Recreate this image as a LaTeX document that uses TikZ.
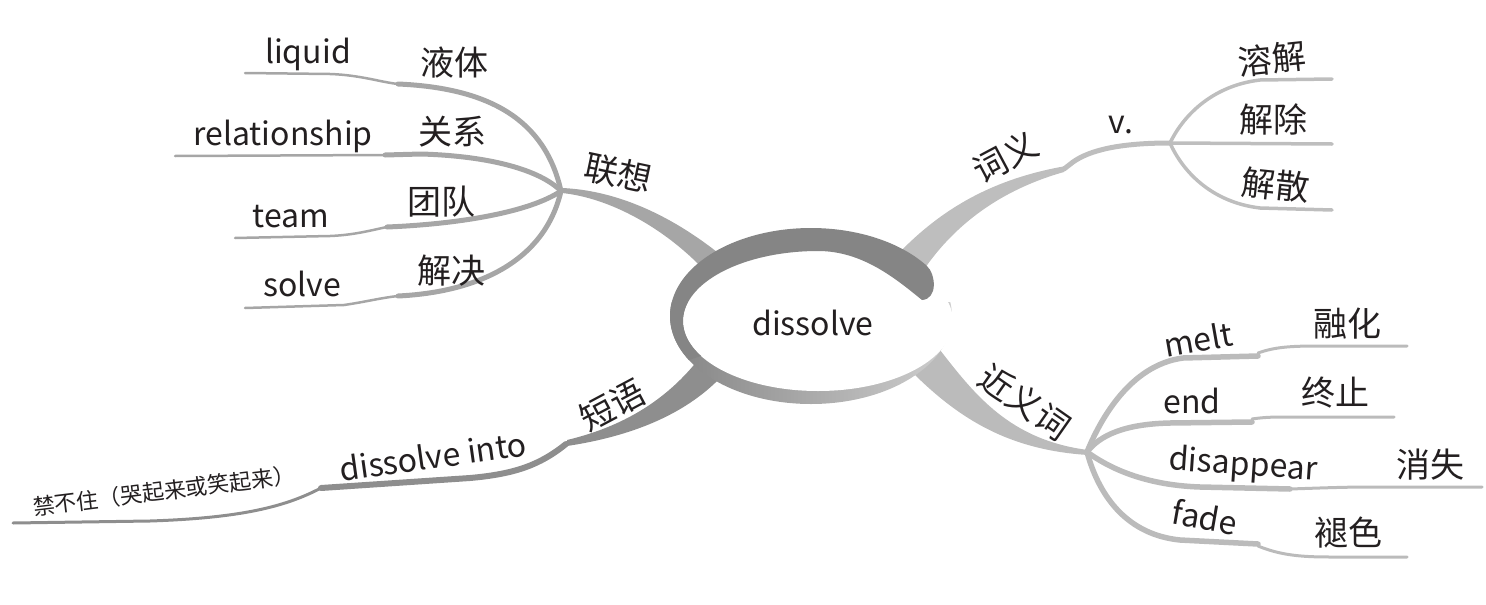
\documentclass[tikz,border=0pt]{standalone}
\usepackage{fontspec}
\setmainfont{Noto Sans CJK SC}
\definecolor{txt}{HTML}{231F20}
\definecolor{ringdark}{HTML}{858585}
\definecolor{ringlight}{HTML}{CFCFCF}
\definecolor{cL}{HTML}{A6A6A6}
\definecolor{cT}{HTML}{BEBEBE}
\definecolor{cN}{HTML}{BBBBBB}
\definecolor{cP}{HTML}{8E8E8E}
\tikzset{
  lab/.style={font=\fontsize{34}{40}\selectfont, text=txt, inner sep=0pt},
  latin/.style={font=\fontsize{32}{38}\selectfont},
  small/.style={font=\fontsize{22}{26}\selectfont},
  lthin/.style={draw=cL, line width=2.5pt},
  lthick/.style={draw=cL, line width=5pt},
  vline/.style={draw=cT, line width=3.5pt},
  nthick/.style={draw=cN, line width=5.5pt},
  nthin/.style={draw=cN, line width=3pt},
  pmid/.style={draw=cP, line width=6pt},
  pthin/.style={draw=cP, line width=3pt}
}
\begin{document}
\begin{tikzpicture}[x=1pt,y=-1pt,line cap=round,line join=round]
\useasboundingbox (0,0) rectangle (1486,605);

% ---- hubs and ends
\coordinate (hubL) at (561,191);
\coordinate (hubV) at (1170,143);
\coordinate (hubN) at (1087,452);
\coordinate (liqS) at (245,73);   \coordinate (liqM) at (398,84);
\coordinate (relS) at (175,156);  \coordinate (relM) at (385,155);
\coordinate (teaS) at (235,238);  \coordinate (teaM) at (387,227);
\coordinate (solS) at (245,308);  \coordinate (solM) at (398,296);
\coordinate (vT) at (1332,79); \coordinate (vM) at (1332,144); \coordinate (vB) at (1332,210);
\coordinate (melM) at (1258,356); \coordinate (melE) at (1407,346);
\coordinate (endM) at (1252,422); \coordinate (endE) at (1394,417);
\coordinate (disM) at (1290,489); \coordinate (disE) at (1482,487);
\coordinate (fadM) at (1258,544); \coordinate (fadE) at (1407,557);
\coordinate (phrM) at (566,444); \coordinate (phrN) at (321,488); \coordinate (phrE) at (13,523);
\coordinate (ciyiM) at (1064,169);

% ---- main branches (tapered)
\fill[cL] (562,188) .. controls (610,190) and (665,210) .. (722,256) -- (706,272)
  .. controls (665,228) and (610,198) .. (562,193) -- cycle;
\fill[cT] (896,256) .. controls (935,215) and (985,180) .. (1066,166) -- (1064,172)
  .. controls (1000,190) and (955,225) .. (925,268) -- cycle;
\fill[cN] (940,350) .. controls (975,395) and (1010,440) .. (1088,450) -- (1088,455)
  .. controls (1010,450) and (960,420) .. (912,372) -- cycle;
\fill[cP] (698,360) .. controls (670,395) and (630,425) .. (567,440) -- (567,446)
  .. controls (640,435) and (690,410) .. (722,376) -- cycle;

% ---- 联想 children
\draw[lthin] (liqS) -- (330,74) .. controls (360,75) and (380,82) .. (liqM);
\draw[lthick] (liqM) .. controls (490,88) and (545,120) .. (hubL);
\draw[lthin] (relS) -- (relM);
\draw[lthick] (relM) -- (421,154) .. controls (490,156) and (540,170) .. (hubL);
\draw[lthin] (teaS) -- (330,236) .. controls (355,235) and (372,230) .. (teaM);
\draw[lthick] (teaM) .. controls (460,224) and (530,212) .. (hubL);
\draw[lthin] (solS) -- (344,305) .. controls (365,302) and (380,298) .. (solM);
\draw[lthick] (solM) .. controls (480,292) and (545,260) .. (hubL);

% ---- 词义 children
\draw[draw=cT, line width=5pt] (ciyiM) -- (1073,162) .. controls (1090,150) and (1120,143) .. (hubV);
\draw[vline] (hubV) .. controls (1182,118) and (1210,86) .. (1260,80) -- (vT);
\draw[vline] (hubV) -- (vM);
\draw[vline] (hubV) .. controls (1182,170) and (1210,202) .. (1260,208) -- (vB);

% ---- 近义词 children
\draw[nthick] (hubN) .. controls (1100,420) and (1130,365) .. (1183,358) -- (melM);
\draw[nthin] (1258,353) .. controls (1275,347) and (1290,346) .. (1320,346) -- (melE);
\draw[nthick] (hubN) .. controls (1100,435) and (1125,424) .. (1170,423) -- (endM);
\draw[nthin] (1252,419) .. controls (1265,417) and (1275,417) .. (1290,417) -- (endE);
\draw[nthick] (hubN) .. controls (1105,465) and (1140,485) .. (1200,487) -- (disM);
\draw[nthin] (disM) .. controls (1320,488) and (1345,487) .. (1370,487) -- (disE);
\draw[nthick] (hubN) .. controls (1100,500) and (1130,535) .. (1180,540) -- (fadM);
\draw[nthin] (1258,546) .. controls (1280,555) and (1300,557) .. (1330,557) -- (fadE);

% ---- 短语 children
\draw[pmid] (phrM) .. controls (540,465) and (515,474) .. (470,478) -- (phrN);
\draw[pthin] (phrN) .. controls (285,507) and (240,518) .. (150,521) -- (phrE);

% ---- central disc
\begin{scope}
  \clip (600,302) rectangle (1000,420);
  \shade[left color=ringdark, right color=ringlight] (811,316) ellipse [x radius=141pt, y radius=88pt];
\end{scope}
\fill[white] (818,321) ellipse [x radius=135pt, y radius=70pt];
\fill[ringdark] plot[domain=150:325, samples=90] ({811+141*cos(\x)},{316+88*sin(\x)})
  .. controls (936,274) and (938,299) .. (922,300)
  .. controls (895,278) and (862,251) .. (818,251)
  -- plot[domain=270:150, samples=60] ({818+135*cos(\x)},{321+70*sin(\x)}) -- cycle;

% ---- labels
\node[lab, latin, anchor=base] (main) at (813,335) {dissolve};
\node[lab, latin, anchor=base] (liquid) at (308,63) {liquid};
\node[lab] (yeti) at (454,63) {液体};
\node[lab, latin, anchor=base] (relationship) at (283,145) {relationship};
\node[lab] (guanxi) at (452,132) {关系};
\node[lab, latin, anchor=base] (team) at (291,227) {team};
\node[lab] (tuandui) at (441,202) {团队};
\node[lab, latin, anchor=base] (solve) at (302,296) {solve};
\node[lab] (jiejue) at (451,271) {解决};
\node[lab, rotate=-12] (lianxiang) at (618,173) {联想};
\node[lab, rotate=28] (ciyi) at (1005,157) {词义};
\node[lab, latin, anchor=base] (verb) at (1121,133) {v.};
\node[lab, rotate=6] (rongjie) at (1272,59) {溶解};
\node[lab] (jiechu) at (1273,120) {解除};
\node[lab, rotate=-6] (jiesan) at (1276,185) {解散};
\node[lab, rotate=-35] (jinyici) at (1025,402) {近义词};
\node[lab, latin, rotate=10] (melt) at (1198,339) {melt};
\node[lab] (ronghua) at (1347,324) {融化};
\node[lab, latin, anchor=base] (endw) at (1192,413) {end};
\node[lab] (zhongzhi) at (1335,393) {终止};
\node[lab, latin, rotate=-4] (disappear) at (1243,466) {disappear};
\node[lab] (xiaoshi) at (1430,465) {消失};
\node[lab, latin, rotate=-10] (fade) at (1205,517) {fade};
\node[lab] (tuise) at (1348,533) {褪色};
\node[lab, rotate=28] (duanyu) at (612,405) {短语};
\node[lab, latin, rotate=8] (into) at (433,456) {dissolve into};
\node[lab, small, rotate=7] (jinbuzhu) at (164,491) {禁不住（哭起来或笑起来）};
\end{tikzpicture}
\end{document}
